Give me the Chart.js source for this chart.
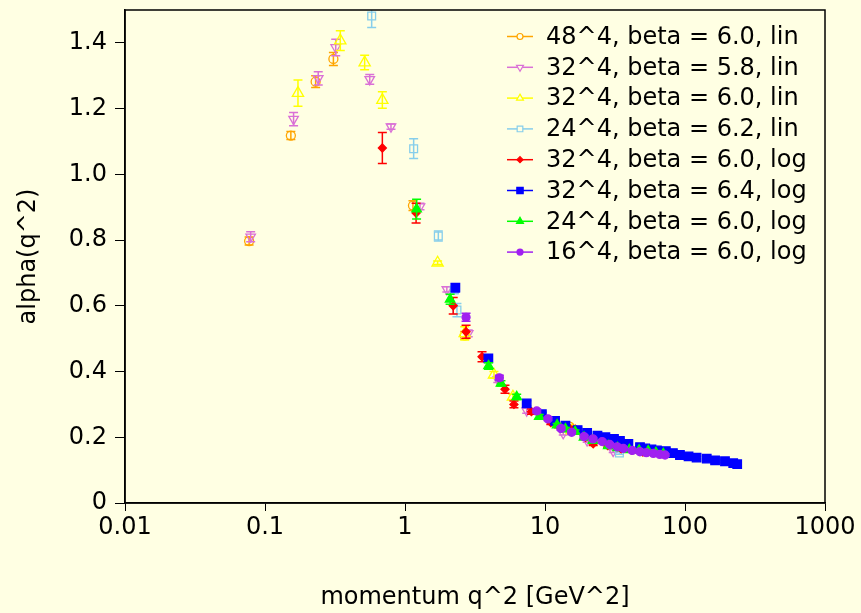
<!DOCTYPE html>
<html>
<head>
<meta charset="utf-8">
<script src="https://cdn.jsdelivr.net/npm/chart.js@4.4.0/dist/chart.umd.min.js"></script>
<style>
  html, body { margin: 0; padding: 0; background: #ffffe3; }
  #wrap { width: 861px; height: 613px; position: relative; }
</style>
</head>
<body>
<div id="wrap"><canvas id="myChart"></canvas></div>
<script>
// each point: [q^2 in GeV^2, alpha(q^2), error]
const lat48_b60_lin = [[0.077, 0.797, 0.012], [0.153, 1.118, 0.012], [0.23, 1.282, 0.018], [0.308, 1.351, 0.02],
    [1.14, 0.905, 0.015], [2.67, 0.51, 0.012], [15.0, 0.232, 0.006]];
const lat32_b58_lin = [[0.079, 0.81, 0.015], [0.16, 1.168, 0.02], [0.24, 1.292, 0.02], [0.32, 1.386, 0.025],
    [0.56, 1.289, 0.015], [0.794, 1.145, 0.008], [1.28, 0.902, 0.01], [1.99, 0.65, 0.008], [2.83, 0.516, 0.01],
    [4.6, 0.375, 0.008], [7.4, 0.281, 0.008], [13.5, 0.212, 0.005], [20, 0.19, 0.005], [30.7, 0.158, 0.004]];
const lat32_b60_lin = [[0.172, 1.247, 0.04], [0.345, 1.407, 0.03], [0.515, 1.34, 0.022], [0.689, 1.226, 0.025],
    [1.71, 0.731, 0.005], [2.67, 0.516, 0.02], [4.32, 0.39, 0.01], [5.9, 0.323, 0.008], [15.5, 0.22, 0.005]];
const lat24_b62_lin = [[0.578, 1.482, 0.035], [1.153, 1.078, 0.03], [1.73, 0.8125, 0.015], [2.25, 0.648, 0.01],
    [2.35, 0.587, 0.02], [34, 0.152, 0.004]];
const lat32_b60_log = [[0.689, 1.08, 0.047], [1.2, 0.882, 0.03], [2.21, 0.6, 0.025], [2.73, 0.521, 0.02],
    [3.55, 0.445, 0.015], [5.18, 0.346, 0.012], [6.0, 0.30, 0.01], [8.0, 0.278, 0.008], [11, 0.245, 0.006],
    [12.5, 0.235, 0.006], [15.0, 0.227, 0.006], [16.5, 0.225, 0.005], [19.5, 0.2, 0.005], [22.1, 0.18, 0.005],
    [28, 0.175, 0.005], [35, 0.165, 0.005], [41.6, 0.161, 0.005], [50, 0.155, 0.004]];
const lat32_b64_log = [[2.29, 0.655, 0.012], [3.94, 0.44, 0.01], [7.4, 0.303, 0.008], [9.5, 0.27, 0.006],
    [11.8, 0.25, 0.006], [14, 0.235, 0.006], [17.1, 0.222, 0.006], [20, 0.213, 0.005], [23.7, 0.205, 0.005],
    [27, 0.2, 0.005], [31.1, 0.195, 0.005], [34.3, 0.189, 0.005], [39.4, 0.18, 0.005], [47.7, 0.17, 0.004],
    [52, 0.166, 0.004], [57.6, 0.163, 0.004], [63, 0.16, 0.004], [73, 0.158, 0.004], [82, 0.152, 0.004],
    [92, 0.146, 0.004], [106, 0.142, 0.004], [121, 0.138, 0.004], [143, 0.135, 0.004], [164, 0.13, 0.004],
    [193, 0.127, 0.004], [221, 0.121, 0.004], [236, 0.118, 0.004]];
const lat24_b60_log = [[1.21, 0.894, 0.03], [2.1, 0.62, 0.015], [3.95, 0.417, 0.01], [4.85, 0.364, 0.008],
    [6.28, 0.323, 0.008], [9.1, 0.263, 0.006], [12.2, 0.237, 0.005], [14, 0.225, 0.005], [16.4, 0.217, 0.005],
    [19, 0.2, 0.005], [22, 0.19, 0.005], [28.3, 0.174, 0.004], [33, 0.168, 0.004], [40, 0.162, 0.004],
    [47, 0.16, 0.004], [54.6, 0.158, 0.004], [62, 0.153, 0.004], [70, 0.15, 0.004]];
const lat16_b60_log = [[2.73, 0.565, 0.012], [4.72, 0.381, 0.008], [8.73, 0.28, 0.006], [10.5, 0.256, 0.005],
    [13, 0.227, 0.005], [15.5, 0.215, 0.005], [19.0, 0.202, 0.004], [22, 0.195, 0.004], [25.6, 0.187, 0.004],
    [29, 0.178, 0.004], [32.8, 0.171, 0.004], [36.3, 0.166, 0.004], [42, 0.16, 0.004], [47.7, 0.156, 0.004],
    [53, 0.153, 0.004], [59.4, 0.151, 0.004], [66, 0.148, 0.004], [72, 0.146, 0.004]];

const seriesData = [lat48_b60_lin, lat32_b58_lin, lat32_b60_lin, lat24_b62_lin,
    lat32_b60_log, lat32_b64_log, lat24_b60_log, lat16_b60_log];
const seriesLabels = ['48^4, beta = 6.0, lin', '32^4, beta = 5.8, lin', '32^4, beta = 6.0, lin', '24^4, beta = 6.2, lin',
    '32^4, beta = 6.0, log', '32^4, beta = 6.4, log', '24^4, beta = 6.0, log', '16^4, beta = 6.0, log'];
const seriesColors = ['#ffa500', '#da70d6', '#ffff00', '#87ceeb', '#ff0000', '#0000ff', '#00ff00', '#a020f0'];

const xTicks = [0.01, 0.1, 1, 10, 100, 1000];
const xTickLabels = ['0.01', '0.1', '1', '10', '100', '1000'];
const yTicks = [0, 0.2, 0.4, 0.6, 0.8, 1.0, 1.2, 1.4];
const yTickLabels = ['0', '0.2', '0.4', '0.6', '0.8', '1.0', '1.2', '1.4'];

const BG = '#ffffe3';
// marker look per series
const markers = [
    {style: 'circle', r: 4.5, fill: false, rot: 0, lr: 3},
    {style: 'triangle', r: 5.5, fill: false, rot: 180, lr: 4},
    {style: 'triangle', r: 6.5, fill: false, rot: 0, lr: 4},
    {style: 'rect', r: 5.5, fill: false, rot: 0, lr: 4},
    {style: 'rectRot', r: 4, fill: true, rot: 0, lr: 3},
    {style: 'rect', r: 6, fill: true, rot: 0, lr: 4.5},
    {style: 'triangle', r: 5.5, fill: true, rot: 0, lr: 4},
    {style: 'circle', r: 4, fill: true, rot: 0, lr: 3}
];

Chart.defaults.font.family = '"DejaVu Sans", sans-serif';
Chart.defaults.font.size = 24;
Chart.defaults.color = '#000';

const datasets = seriesData.map((pts, i) => ({
    label: seriesLabels[i],
    data: pts.map(p => ({x: p[0], y: p[1]})),
    errors: pts.map(p => p[2]),
    borderColor: seriesColors[i],
    backgroundColor: markers[i].fill ? seriesColors[i] : 'transparent',
    pointStyle: markers[i].style,
    pointRadius: markers[i].r,
    pointRotation: markers[i].rot,
    pointBorderWidth: 1.3,
    showLine: false,
    order: 10 - i
}));

const bgPlugin = {
    id: 'bg',
    beforeDraw(chart) {
        const ctx = chart.ctx;
        ctx.save();
        ctx.fillStyle = BG;
        ctx.fillRect(0, 0, chart.width, chart.height);
        ctx.restore();
    }
};

const errorBars = {
    id: 'errorBars',
    beforeDatasetDraw(chart, args) {
        const ds = chart.data.datasets[args.index];
        const xs = chart.scales.x, ys = chart.scales.y;
        const a = chart.chartArea;
        const ctx = chart.ctx;
        ctx.save();
        ctx.beginPath();
        ctx.rect(a.left, a.top, a.right - a.left, a.bottom - a.top);
        ctx.clip();
        ctx.strokeStyle = ds.borderColor;
        ctx.lineWidth = 1.5;
        ds.errors.forEach((e, i) => {
            const p = ds.data[i];
            const px = xs.getPixelForValue(p.x);
            const top = ys.getPixelForValue(p.y + e);
            const bot = ys.getPixelForValue(p.y - e);
            ctx.beginPath();
            ctx.moveTo(px, top); ctx.lineTo(px, bot);
            ctx.moveTo(px - 4.5, top); ctx.lineTo(px + 4.5, top);
            ctx.moveTo(px - 4.5, bot); ctx.lineTo(px + 4.5, bot);
            ctx.stroke();
        });
        ctx.restore();
    }
};

const framePlugin = {
    id: 'frame',
    afterDraw(chart) {
        const a = chart.chartArea, ctx = chart.ctx;
        ctx.save();
        ctx.strokeStyle = '#000';
        ctx.lineWidth = 1.5;
        ctx.strokeRect(a.left, a.top, a.right - a.left, a.bottom - a.top);
        ctx.restore();
    }
};

const lineLegend = {
    id: 'lineLegend',
    afterDraw(chart) {
        const ctx = chart.ctx, a = chart.chartArea;
        chart.data.datasets.forEach((ds, i) => {
            const y = a.top + 26.5 + i * 30.8;
            const x0 = a.right - 318;
            ctx.save();
            ctx.strokeStyle = ds.borderColor;
            ctx.lineWidth = 1.5;
            ctx.beginPath(); ctx.moveTo(x0, y); ctx.lineTo(x0 + 26, y); ctx.stroke();
            ctx.fillStyle = markers[i].fill ? ds.borderColor : BG;
            ctx.lineWidth = 1.2;
            Chart.helpers.drawPoint(ctx, {pointStyle: markers[i].style, radius: markers[i].lr,
                borderWidth: 1.2, rotation: markers[i].rot}, x0 + 13, y);
            ctx.fillStyle = '#000';
            ctx.font = '24px "DejaVu Sans"';
            ctx.textBaseline = 'middle';
            ctx.textAlign = 'left';
            ctx.fillText(ds.label, x0 + 39, y + 1);
            ctx.restore();
        });
    }
};

new Chart(document.getElementById('myChart'), {
    type: 'scatter',
    data: {datasets: datasets},
    options: {
        responsive: true,
        maintainAspectRatio: false,
        animation: false,
        layout: {padding: {top: 10, right: 36, left: 0, bottom: 0}},
        plugins: {legend: {display: false}, tooltip: {enabled: false}},
        scales: {
            x: {
                type: 'logarithmic',
                min: 0.01,
                max: 1000,
                afterBuildTicks: s => { s.ticks = xTicks.map(v => ({value: v})); },
                afterFit: s => { s.height = 110; s.paddingLeft = 0; s.paddingRight = 0; },
                ticks: {autoSkip: false, maxRotation: 0, padding: 2, callback: (v, i) => xTickLabels[i]},
                grid: {drawOnChartArea: false, drawTicks: true, tickLength: 8, color: '#000', lineWidth: 1},
                border: {color: '#000', width: 1.5},
                title: {display: true, text: 'momentum q^2 [GeV^2]', padding: {top: 0, bottom: 1}}
            },
            y: {
                min: 0,
                max: 1.5,
                afterBuildTicks: s => { s.ticks = yTicks.map(v => ({value: v})); },
                afterFit: s => { s.width = 125; s.paddingTop = 0; s.paddingBottom = 0; },
                ticks: {autoSkip: false, padding: 8, callback: (v, i) => yTickLabels[i]},
                grid: {drawOnChartArea: false, drawTicks: true, tickLength: 10, color: '#000', lineWidth: 1},
                border: {color: '#000', width: 1.5},
                title: {display: true, text: 'alpha(q^2)', padding: {top: 14, bottom: 0}}
            }
        }
    },
    plugins: [bgPlugin, errorBars, framePlugin, lineLegend]
});
</script>
</body>
</html>
